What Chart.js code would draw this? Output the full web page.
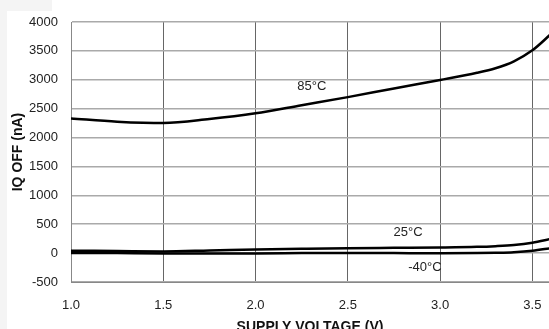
<!DOCTYPE html>
<html>
<head>
<meta charset="utf-8">
<script src="https://cdn.jsdelivr.net/npm/chart.js@4/dist/chart.umd.min.js"></script>
<style>
  html, body { margin: 0; padding: 0; background: #fff; }
  #wrap { position: relative; width: 549px; height: 329px; overflow: hidden; }
  #strip { position: absolute; left: 0; top: 0; width: 7px; height: 329px; background: #f4f4f4; }
  #corner { position: absolute; left: 0; top: 0; width: 52px; height: 11px; background: #f4f4f4; }
  canvas { position: absolute; left: 0; top: 0; }
</style>
</head>
<body>
<div id="wrap">
  <div id="strip"></div>
  <div id="corner"></div>
  <!-- canvas is taller than the window: the x title gets cut like in the original -->
  <canvas id="chart" width="549" height="340"></canvas>
</div>
<script>
// supply voltage (V)
const voltage = [1.0, 1.25, 1.5, 1.75, 2.0, 2.25, 2.5, 2.75, 3.0, 3.2, 3.3, 3.4, 3.5, 3.6];
// IQ OFF (nA) per temperature
const iq85 = [2330, 2275, 2250, 2320, 2420, 2560, 2700, 2850, 2995, 3120, 3200, 3320, 3510, 3790];
const iq25 = [42, 36, 30, 45, 62, 75, 86, 92, 98, 108, 120, 140, 180, 245];
const iqM40 = [4, 0, -5, -5, -5, 0, 3, 0, -3, 0, 5, 15, 40, 85];

const xTicks = [1.0, 1.5, 2.0, 2.5, 3.0, 3.5];
const yTicks = [-500, 0, 500, 1000, 1500, 2000, 2500, 3000, 3500, 4000];

// curve labels, in data units
const curveLabels = ['85°C', '25°C', '-40°C'];
const curveLabelX = [2.305, 2.826, 2.918];
const curveLabelY = [2890, 350, -240];

const FONT = '"Liberation Sans", Arial, sans-serif';

const pts = ys => voltage.map((v, i) => ({ x: v, y: ys[i] }));

const lineStyle = {
  borderColor: '#000',
  borderWidth: 2.5,
  pointRadius: 0,
  cubicInterpolationMode: 'monotone',
  fill: false
};

const curveLabelPlugin = {
  id: 'curveLabels',
  afterDatasetsDraw(chart) {
    const { ctx, scales } = chart;
    ctx.save();
    ctx.font = '13px ' + FONT;
    ctx.fillStyle = '#222';
    ctx.textAlign = 'center';
    ctx.textBaseline = 'middle';
    curveLabels.forEach((t, i) => {
      ctx.fillText(t, scales.x.getPixelForValue(curveLabelX[i]), scales.y.getPixelForValue(curveLabelY[i]));
    });
    ctx.restore();
  }
};

new Chart(document.getElementById('chart'), {
  type: 'line',
  data: {
    datasets: [
      { label: '85°C', data: pts(iq85), ...lineStyle },
      { label: '25°C', data: pts(iq25), ...lineStyle },
      { label: '-40°C', data: pts(iqM40), ...lineStyle }
    ]
  },
  options: {
    responsive: false,
    animation: false,
    layout: { padding: { top: 22, right: 0, left: 0, bottom: 0 } },
    plugins: { legend: { display: false }, tooltip: { enabled: false } },
    scales: {
      x: {
        type: 'linear',
        min: 1.0,
        max: 3.59,
        afterBuildTicks: s => { s.ticks = xTicks.map(v => ({ value: v })); },
        afterFit: s => { s.height = 58; s.paddingRight = 0; s.paddingLeft = 0; },
        grid: { color: '#666', lineWidth: 1, drawTicks: false },
        border: { color: '#888', width: 1 },
        ticks: {
          padding: 16,
          color: '#222',
          font: { family: FONT, size: 13 },
          callback: v => Number(v).toFixed(1)
        },
        title: {
          display: true,
          text: 'SUPPLY VOLTAGE (V)',
          color: '#111',
          font: { family: FONT, size: 14, weight: 'bold' },
          padding: { top: 6 }
        }
      },
      y: {
        min: -500,
        max: 4000,
        afterBuildTicks: s => { s.ticks = yTicks.map(v => ({ value: v })); },
        afterFit: s => { s.width = 71; },
        grid: { color: '#aaa', lineWidth: 1.5, drawTicks: false },
        border: { color: '#888', width: 1 },
        ticks: {
          padding: 13,
          color: '#222',
          font: { family: FONT, size: 13 },
          callback: v => String(v)
        },
        title: {
          display: true,
          text: 'IQ OFF (nA)',
          color: '#111',
          font: { family: FONT, size: 14, weight: 'bold' },
          padding: { bottom: 0, top: 10 }
        }
      }
    }
  },
  plugins: [curveLabelPlugin]
});
</script>
</body>
</html>
